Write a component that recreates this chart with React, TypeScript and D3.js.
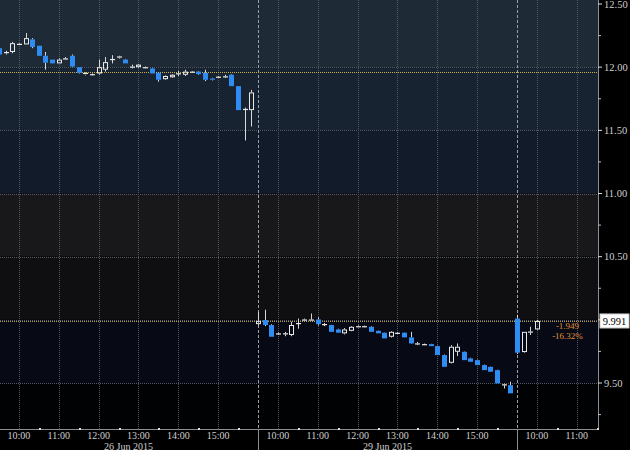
import React from "react";
import * as d3 from "d3";

// [open, high, low, close], 10-minute bars from 9:30
type Candle = [number, number, number, number];

const jun26: Candle[] = [
  [12.15, 12.16, 12.08, 12.1],
  [12.11, 12.13, 12.1, 12.12],
  [12.12, 12.2, 12.11, 12.19],
  [12.18, 12.19, 12.175, 12.185],
  [12.18, 12.27, 12.18, 12.23],
  [12.22, 12.23, 12.15, 12.16],
  [12.17, 12.17, 12.09, 12.09],
  [12.09, 12.12, 11.98, 12.035],
  [12.06, 12.06, 12.03, 12.03],
  [12.03, 12.07, 12.03, 12.06],
  [12.07, 12.08, 12.06, 12.07],
  [12.09, 12.1, 12.0, 12.005],
  [12.0, 12.0, 11.95, 11.955],
  [11.94, 11.96, 11.935, 11.955],
  [11.945, 11.95, 11.935, 11.945],
  [11.95, 12.06, 11.94, 12.0],
  [11.98, 12.08, 11.965, 12.04],
  [12.06, 12.095, 12.03, 12.065],
  [12.07, 12.09, 12.065, 12.085],
  [12.06, 12.065, 12.03, 12.03],
  [12.0, 12.02, 11.99, 12.005],
  [12.0, 12.025, 11.995, 12.02],
  [12.0, 12.005, 11.995, 12.0],
  [11.99, 11.995, 11.95, 11.95],
  [11.955, 11.96, 11.885, 11.9],
  [11.905, 11.935, 11.9, 11.93],
  [11.92, 11.945, 11.915, 11.94],
  [11.95, 11.97, 11.93, 11.952],
  [11.94, 11.98, 11.93, 11.965],
  [11.965, 11.97, 11.96, 11.965],
  [11.965, 11.97, 11.94, 11.945],
  [11.955, 11.98, 11.89, 11.9],
  [11.91, 11.915, 11.895, 11.9],
  [11.925, 11.93, 11.92, 11.925],
  [11.925, 11.94, 11.915, 11.928],
  [11.94, 11.945, 11.85, 11.85],
  [11.85, 11.85, 11.66, 11.66],
  [11.665, 11.68, 11.42, 11.67],
  [11.66, 11.82, 11.53, 11.8],
];

const jun29: Candle[] = [
  [9.966, 10.064, 9.955, 9.992],
  [9.998, 10.08, 9.95, 9.959],
  [9.959, 9.965, 9.866, 9.866],
  [9.89, 9.9, 9.88, 9.893],
  [9.892, 9.905, 9.87, 9.894],
  [9.88, 9.985, 9.87, 9.959],
  [9.97, 10.01, 9.93, 9.975],
  [10.0, 10.01, 9.995, 10.003],
  [10.0, 10.05, 9.995, 10.003],
  [10.003, 10.02, 9.955, 9.966],
  [9.965, 9.975, 9.95, 9.967],
  [9.959, 9.96, 9.905, 9.905],
  [9.924, 9.93, 9.898, 9.898],
  [9.893, 9.935, 9.885, 9.924],
  [9.913, 9.95, 9.91, 9.945],
  [9.95, 9.955, 9.945, 9.95],
  [9.95, 9.955, 9.945, 9.95],
  [9.945, 9.95, 9.905, 9.905],
  [9.913, 9.915, 9.893, 9.893],
  [9.898, 9.9, 9.853, 9.853],
  [9.866, 9.91, 9.86, 9.905],
  [9.898, 9.903, 9.893, 9.898],
  [9.898, 9.9, 9.861, 9.861],
  [9.861, 9.905, 9.81, 9.813],
  [9.813, 9.825, 9.8, 9.814],
  [9.808, 9.812, 9.804, 9.808],
  [9.808, 9.81, 9.792, 9.792],
  [9.792, 9.795, 9.721, 9.721],
  [9.721, 9.725, 9.628, 9.628],
  [9.66, 9.8, 9.655, 9.787],
  [9.747, 9.813, 9.713, 9.787],
  [9.747, 9.75, 9.681, 9.681],
  [9.695, 9.7, 9.668, 9.668],
  [9.681, 9.685, 9.642, 9.642],
  [9.642, 9.645, 9.602, 9.602],
  [9.628, 9.63, 9.589, 9.589],
  [9.602, 9.605, 9.497, 9.497],
  [9.49, 9.495, 9.457, 9.49],
  [9.483, 9.51, 9.418, 9.418],
];

const jun30: Candle[] = [
  [10.01, 10.04, 9.73, 9.74],
  [9.745, 9.905, 9.74, 9.905],
  [9.905, 9.945, 9.88, 9.908],
  [9.924, 10.0, 9.92, 9.991],
];

const sessions = [jun26, jun29, jun30];
const dayLabels = ["26 Jun 2015", "29 Jun 2015", ""];
const hourLabels = ["10:00", "11:00", "12:00", "13:00", "14:00", "15:00"];
const priceTicks = [12.5, 12.0, 11.5, 11.0, 10.5, 10.0, 9.5];
const prevClose = 11.965;
const lastPrice = 9.991;
const netChange = "-1.949";
const pctChange = "-16.32%";

const W = 630;
const H = 450;
const plotRight = 598;
const plotBottom = 429;
const SESSION = 390; // minutes 9:30 - 16:00
const BAR = 10;

const x = d3.scaleLinear().domain([0, 902]).range([-1, plotRight]);
const y = d3.scaleLinear().domain([9.5, 12.5]).range([383, 4]);

const bandColors = [
  "#1e2b37",
  "#172331",
  "#121b29",
  "#18181a",
  "#0f0f11",
  "#070a14",
  "#010204",
];

const font = "'Liberation Serif', 'DejaVu Serif', serif";

export default function App() {
  const bandEdges = [0, ...priceTicks.slice(1).map((p) => y(p)), plotBottom];
  const hourTimes: { t: number; label: string }[] = [];
  sessions.forEach((_, d) => {
    hourLabels.forEach((lab, h) => {
      const t = d * SESSION + 30 + h * 60;
      if (x(t) < plotRight) hourTimes.push({ t, label: lab });
    });
  });
  const halfHours: number[] = [];
  sessions.forEach((_, d) => {
    for (let m = 60; m < SESSION; m += 60) {
      const t = d * SESSION + m;
      if (x(t) < plotRight) halfHours.push(t);
    }
  });
  const minorTicks = d3.range(9.25, 12.5, 0.5);
  const bw = 5;

  return (
    <svg
      width={W}
      height={H}
      style={{ position: "fixed", left: 0, top: 0, background: "#000" }}
    >
      <rect x={0} y={0} width={W} height={H} fill="#000" />
      {bandColors.map((c, i) => (
        <rect
          key={i}
          x={0}
          y={bandEdges[i]}
          width={plotRight}
          height={bandEdges[i + 1] - bandEdges[i]}
          fill={c}
        />
      ))}

      {/* horizontal grid */}
      {priceTicks.slice(1).map((p) => (
        <line
          key={p}
          x1={0}
          x2={plotRight}
          y1={Math.round(y(p)) + 0.5}
          y2={Math.round(y(p)) + 0.5}
          stroke="#525b64"
          strokeDasharray="1 1"
        />
      ))}
      {/* vertical hour grid */}
      {hourTimes.map((h) => (
        <line
          key={h.t}
          x1={Math.round(x(h.t)) + 0.5}
          x2={Math.round(x(h.t)) + 0.5}
          y1={0}
          y2={plotBottom}
          stroke="#4f5860"
          strokeDasharray="1 1"
        />
      ))}
      {/* session separators */}
      {[1, 2].map((d) => (
        <g key={d}>
          <line
            x1={Math.round(x(d * SESSION)) + 0.5}
            x2={Math.round(x(d * SESSION)) + 0.5}
            y1={0}
            y2={plotBottom}
            stroke="#9aa0a6"
            strokeDasharray="3 2"
          />
          <line
            x1={Math.round(x(d * SESSION)) + 0.5}
            x2={Math.round(x(d * SESSION)) + 0.5}
            y1={plotBottom}
            y2={H}
            stroke="#8a8f94"
          />
        </g>
      ))}

      {/* reference lines */}
      <line
        x1={0}
        x2={plotRight}
        y1={Math.round(y(prevClose)) + 0.5}
        y2={Math.round(y(prevClose)) + 0.5}
        stroke="#c9b04a"
        strokeDasharray="1 1"
      />
      <line
        x1={0}
        x2={plotRight}
        y1={Math.round(y(lastPrice)) + 0.5}
        y2={Math.round(y(lastPrice)) + 0.5}
        stroke="#b89a4a"
        strokeDasharray="1 1"
      />

      {/* candles */}
      {sessions.map((bars, d) =>
        bars.map(([o, hi, lo, c], i) => {
          const cx = Math.round(x(d * SESSION + i * BAR));
          const top = y(Math.max(o, c));
          const bot = y(Math.min(o, c));
          const up = c >= o;
          const bodyH = Math.max(1, bot - top);
          return (
            <g key={`${d}-${i}`}>
              <line
                x1={cx + 0.5}
                x2={cx + 0.5}
                y1={y(hi)}
                y2={top}
                stroke="#d8d8d8"
              />
              <line
                x1={cx + 0.5}
                x2={cx + 0.5}
                y1={top + bodyH}
                y2={y(lo)}
                stroke="#d8d8d8"
              />
              {bodyH < 2 ? (
                <rect
                  x={cx - 2}
                  y={top}
                  width={bw}
                  height={1.2}
                  fill={up ? "#e8e8e8" : "#2f8cf2"}
                />
              ) : up ? (
                <rect
                  x={cx - 1.5}
                  y={top + 0.5}
                  width={bw - 1}
                  height={bodyH - 1}
                  fill="none"
                  stroke="#e8e8e8"
                />
              ) : (
                <rect
                  x={cx - 2}
                  y={top}
                  width={bw}
                  height={bodyH}
                  fill="#2f8cf2"
                />
              )}
            </g>
          );
        })
      )}

      {/* right axis */}
      <line x1={plotRight + 0.5} x2={plotRight + 0.5} y1={0} y2={plotBottom} stroke="#8a8f94" />
      {priceTicks.map((p) => (
        <g key={p}>
          <line x1={plotRight} x2={plotRight + 4} y1={y(p)} y2={y(p)} stroke="#ddd" />
          <text
            x={604}
            y={y(p)}
            dy="0.35em"
            fontFamily={font}
            fontSize={10.5}
            fill="#cfcfcf"
          >
            {d3.format(".2f")(p)}
          </text>
        </g>
      ))}
      {minorTicks.map((p) => (
        <line key={p} x1={plotRight} x2={plotRight + 3} y1={y(p)} y2={y(p)} stroke="#bbb" />
      ))}
      <rect x={600} y={y(lastPrice) - 7} width={29} height={14} fill="#fff" stroke="#ccc" />
      <text
        x={614.5}
        y={y(lastPrice)}
        dy="0.35em"
        textAnchor="middle"
        fontFamily={font}
        fontSize={10.5}
        fill="#000"
      >
        {lastPrice.toFixed(3)}
      </text>
      <text x={567.5} y={326} dy="0.35em" textAnchor="middle" fontFamily={font} fontSize={9} fill="#e0913f">
        {netChange}
      </text>
      <text x={567.5} y={335.5} dy="0.35em" textAnchor="middle" fontFamily={font} fontSize={9} fill="#e0913f">
        {pctChange}
      </text>

      {/* bottom axis */}
      <line x1={0} x2={plotRight} y1={plotBottom + 0.5} y2={plotBottom + 0.5} stroke="#8a8f94" />
      {halfHours.map((t) => (
        <rect key={t} x={Math.round(x(t))} y={plotBottom - 1} width={2} height={2} fill="#ddd" />
      ))}
      {hourTimes.map((h) => (
        <text
          key={h.t}
          x={x(h.t)}
          y={435.5}
          dy="0.35em"
          textAnchor="middle"
          fontFamily={font}
          fontSize={10}
          fill="#cfcfcf"
        >
          {h.label}
        </text>
      ))}
      {dayLabels.map((lab, d) =>
        lab ? (
          <text
            key={d}
            x={x(d * SESSION + SESSION / 2)}
            y={446}
            dy="0.35em"
            textAnchor="middle"
            fontFamily={font}
            fontSize={10}
            fill="#cfcfcf"
          >
            {lab}
          </text>
        ) : null
      )}
    </svg>
  );
}
